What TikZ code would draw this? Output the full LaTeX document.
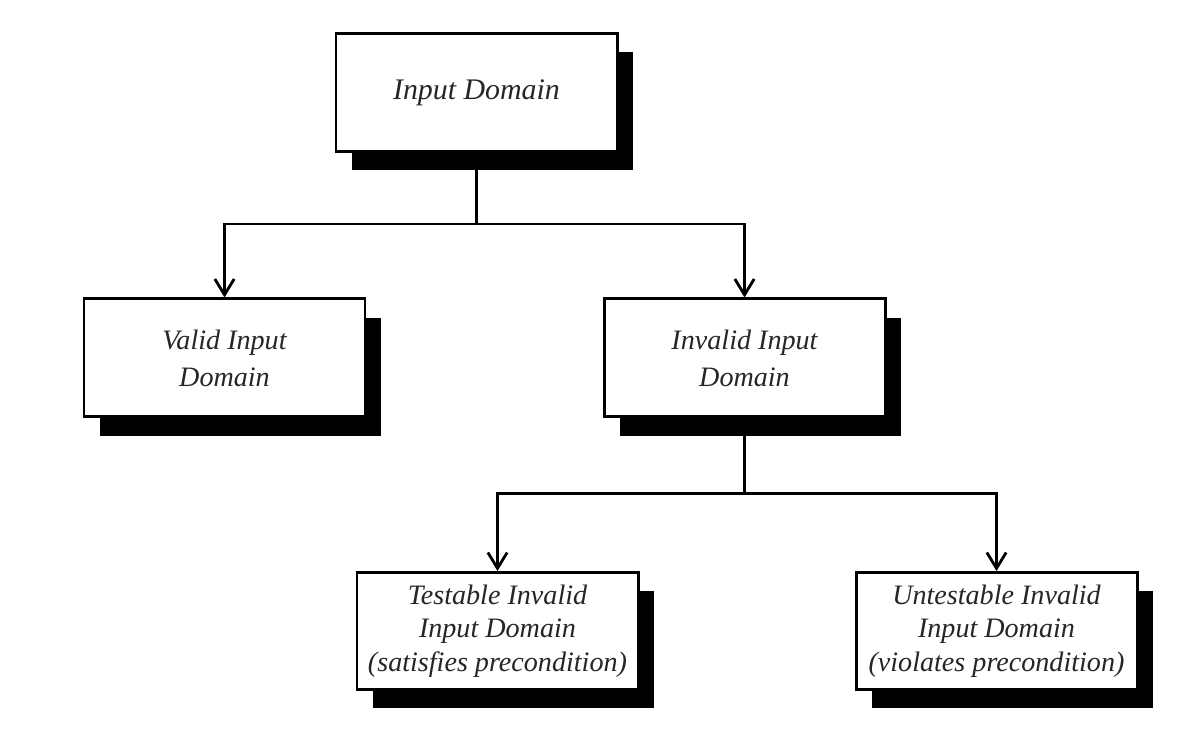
\documentclass[tikz,border=0pt]{standalone}
\usepackage{fontspec}
\setmainfont{Liberation Serif}
\usetikzlibrary{arrows.meta, shadows}

\begin{document}
\begin{tikzpicture}[
		box/.style={draw, line width=1.7pt, fill=white, align=center, text=black!85,
			minimum width=5.62cm, minimum height=2.36cm, inner sep=2pt,
			font=\itshape\fontsize{16}{21}\selectfont,
			drop shadow={shadow xshift=0.32cm, shadow yshift=-0.38cm, fill=black, opacity=1}},
		leaf/.style={box, minimum height=2.34cm, font=\itshape\fontsize{16}{19}\selectfont},
		link/.style={line width=1.6pt},
		arrow/.style={link, -{Straight Barb[length=9pt, width=11pt]}}
	]
	\useasboundingbox (0,0) rectangle (23.84,14.96);
	
	% Root
	\node[box, font=\itshape\fontsize{17}{21}\selectfont] (input) at (9.53,13.11) {Input Domain};
	
	% First split
	\node[box] (valid) at (4.49,7.80) {Valid Input\\Domain};
	\node[box] (invalid) at (14.89,7.80) {Invalid Input\\Domain};
	
	\draw[link] (input.south) -- ++(0,-1.42) coordinate (fork1);
	\draw[arrow] (fork1) -| (valid.north);
	\draw[arrow] (fork1) -| (invalid.north);
	
	% Second split
	\node[leaf] (testable) at (9.95,2.34) {Testable Invalid\\Input Domain\\(satisfies precondition)};
	\node[leaf] (untestable) at (19.93,2.34) {Untestable Invalid\\Input Domain\\(violates precondition)};
	
	\draw[link] (invalid.south) -- ++(0,-1.5) coordinate (fork2);
	\draw[arrow] (fork2) -| (testable.north);
	\draw[arrow] (fork2) -| (untestable.north);
\end{tikzpicture}
\end{document}
